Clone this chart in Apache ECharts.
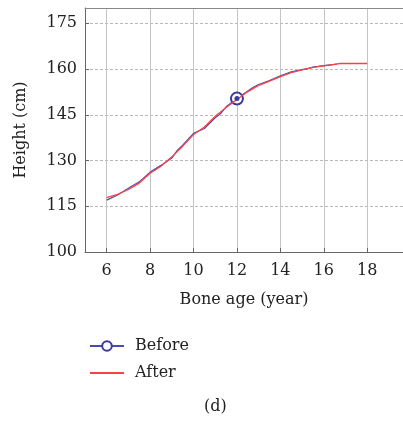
<!DOCTYPE html>
<html>
<head>
<meta charset="utf-8">
<script src="https://cdn.jsdelivr.net/npm/echarts@6/dist/echarts.min.js"></script>
<style>
  html, body { margin: 0; padding: 0; background: #fff; }
  #chart { width: 403px; height: 421px; }
</style>
</head>
<body>
<div id="chart"></div>
<script>
// bone age (year) and height (cm)
var beforeAge = [6, 6.5, 7, 7.5, 8, 8.5, 9, 9.25, 9.5, 10, 10.5, 11, 11.25, 11.5, 12, 12.3, 12.75, 13, 13.5, 14, 14.5, 15, 15.25, 15.5, 16, 16.6];
var beforeHeight = [117.0, 118.7, 120.9, 123.0, 126.2, 128.4, 130.8, 133.3, 135.0, 138.9, 140.5, 144.0, 145.4, 147.6, 150.3, 151.8, 154.0, 154.9, 156.2, 157.8, 159.1, 159.8, 160.1, 160.6, 161.1, 161.6];

var afterAge = [6, 6.5, 7, 7.5, 8, 8.5, 9, 9.5, 10, 10.5, 11, 11.5, 12, 12.5, 13, 13.5, 14, 14.5, 15, 15.5, 16, 16.5, 16.75, 18];
var afterHeight = [117.8, 118.9, 120.5, 122.6, 125.8, 128.1, 131.2, 134.7, 138.5, 141.0, 144.5, 147.4, 150.0, 152.6, 154.6, 156.0, 157.5, 158.8, 159.7, 160.5, 161.0, 161.5, 161.8, 161.8];

var markAge = 12;
var xTicks = [6, 8, 10, 12, 14, 16, 18];
var yTicks = [100, 115, 130, 145, 160, 175];

function pairs(xs, ys) {
    var res = [];
    for (var i = 0; i < xs.length; i++) {
        res.push([xs[i], ys[i]]);
    }
    return res;
}

var markIdx = beforeAge.indexOf(markAge);
var font = '"DejaVu Serif", "Liberation Serif", serif';
var fs = 16;
var myChart = echarts.init(document.getElementById('chart'));

var option = {
    backgroundColor: '#fff',
    animation: false,
    textStyle: { fontFamily: font },
    grid: { left: 85, right: 0, top: 8, bottom: 169 },
    legend: {
        orient: 'vertical',
        left: 84,
        top: 333,
        itemWidth: 34,
        itemHeight: 12,
        itemGap: 11,
        textStyle: { fontFamily: font, fontSize: fs, color: '#222', padding: [0, 0, 0, 6] },
        data: [
            'Before',
            { name: 'After', itemStyle: { color: 'rgba(0,0,0,0)', borderColor: 'rgba(0,0,0,0)', borderWidth: 0 } }
        ]
    },
    xAxis: [{
        type: 'value',
        min: 5,
        max: 19.65,
        name: 'Bone age (year)',
        nameLocation: 'middle',
        nameGap: 40,
        nameTextStyle: { fontFamily: font, fontSize: fs, color: '#222' },
        axisLine: { show: true, lineStyle: { color: '#666', width: 1 } },
        axisTick: { show: true, inside: true, length: 4, customValues: xTicks, lineStyle: { color: '#666' } },
        axisLabel: { customValues: xTicks, fontFamily: font, fontSize: fs, color: '#222', margin: 11 },
        splitLine: { show: true, lineStyle: { color: '#c4c4c4', width: 1 } }
    }, {
        type: 'value',
        position: 'top',
        min: 5,
        max: 19.65,
        axisLine: { show: true, lineStyle: { color: '#888', width: 1 } },
        axisTick: { show: false },
        axisLabel: { show: false },
        splitLine: { show: false }
    }],
    yAxis: {
        type: 'value',
        min: 100,
        max: 180,
        name: 'Height (cm)',
        nameLocation: 'middle',
        nameGap: 56,
        nameTextStyle: { fontFamily: font, fontSize: fs, color: '#222' },
        axisLine: { show: true, lineStyle: { color: '#666', width: 1 } },
        axisTick: { show: true, inside: true, length: 4, customValues: yTicks, lineStyle: { color: '#666' } },
        axisLabel: { customValues: yTicks, fontFamily: font, fontSize: fs, color: '#222', margin: 8 },
        splitLine: { show: true, lineStyle: { color: '#b8b8b8', width: 1, type: [3, 2] } }
    },
    series: [{
        name: 'Before',
        type: 'line',
        data: pairs(beforeAge, beforeHeight),
        symbol: 'emptyCircle',
        symbolSize: function (val) {
            return val[0] === markAge ? 12 : 0;
        },
        itemStyle: { color: '#3b3b9e', borderWidth: 1 },
        lineStyle: { color: '#4a4ab0', width: 1.2 },
        markPoint: {
            symbol: 'circle',
            symbolSize: 5,
            silent: true,
            label: { show: false },
            itemStyle: { color: '#3b3b9e' },
            data: [{ coord: [beforeAge[markIdx], beforeHeight[markIdx]] }]
        },
        z: 3
    }, {
        name: 'After',
        type: 'line',
        data: pairs(afterAge, afterHeight),
        symbol: 'none',
        itemStyle: { color: '#ff4040' },
        lineStyle: { color: '#ff4040', width: 1.3 },
        z: 4
    }],
    graphic: [{
        type: 'text',
        left: 204,
        top: 399,
        style: { text: '(d)', font: fs + 'px ' + font, fill: '#222' }
    }]
};
myChart.setOption(option, true);
</script>
</body>
</html>
